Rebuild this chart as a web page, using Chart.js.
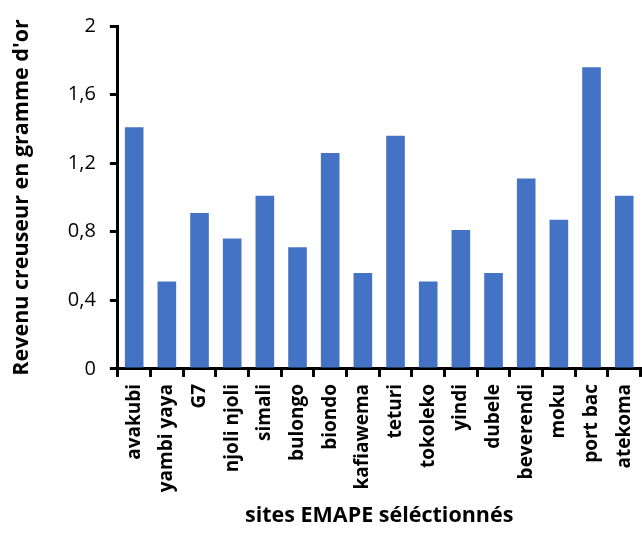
<!DOCTYPE html>
<html>
<head>
<meta charset="utf-8">
<script src="https://cdn.jsdelivr.net/npm/chart.js@4.4.0/dist/chart.umd.min.js"></script>
<style>
    html, body { margin: 0; padding: 0; background: #fff; overflow: hidden; }
    /* un peu plus large que la fenêtre : la marge droite du dernier libellé sort du cadre */
    #wrap { width: 654px; height: 533px; }
</style>
</head>
<body>
<div id="wrap"><canvas id="revenuChart"></canvas></div>
<script>
// sites et revenus (gramme d'or)
var sites = ["avakubi", "yambi yaya", "G7", "njoli njoli", "simali", "bulongo", "biondo", "kafiawema",
    "teturi", "tokoleko", "yindi", "dubele", "beverendi", "moku", "port bac", "atekoma"];
var revenus = [1.41, 0.51, 0.91, 0.76, 1.01, 0.71, 1.26, 0.56, 1.36, 0.51, 0.81, 0.56, 1.11, 0.87, 1.76, 1.01];
var yMin = 0;
var yMax = 2;
var yPas = 0.4;

var police = "'Open Sans', 'Liberation Sans', sans-serif";
var eRevenuChart = document.getElementById("revenuChart");

var data = {
    labels: sites,
    datasets: [{
        data: revenus,
        backgroundColor: '#4472C4',
        borderWidth: 0,
        barPercentage: 0.57,
        categoryPercentage: 1
    }]
};

var options = {
    responsive: true,
    maintainAspectRatio: false,
    animation: false,
    layout: { padding: { top: 25, right: 0, left: 9, bottom: 4 } },
    plugins: {
        legend: { display: false },
        tooltip: { enabled: false }
    },
    scales: {
        x: {
            grid: {
                offset: true,
                drawOnChartArea: false,
                drawTicks: true,
                tickLength: 8,
                color: '#000',
                lineWidth: 3
            },
            border: { color: '#000', width: 3 },
            ticks: {
                color: '#000',
                maxRotation: 90,
                minRotation: 90,
                autoSkip: false,
                padding: 7,
                font: { family: police, size: 19, weight: 'bold' }
            },
            title: {
                display: true,
                text: "sites EMAPE séléctionnés",
                color: '#000',
                padding: { top: 4, bottom: 0 },
                font: { family: police, size: 21.5, weight: 'bold' }
            }
        },
        y: {
            min: yMin,
            max: yMax,
            grid: {
                drawOnChartArea: false,
                drawTicks: true,
                tickLength: 8,
                color: '#000',
                lineWidth: 3
            },
            border: { color: '#000', width: 3 },
            ticks: {
                stepSize: yPas,
                color: '#000',
                padding: 14,
                font: { family: police, size: 20 },
                callback: function (v) {
                    return (Math.round(v * 10) / 10).toString().replace('.', ',');
                }
            },
            title: {
                display: true,
                text: "Revenu creuseur en gramme d'or",
                color: '#000',
                padding: { top: 0, bottom: 19 },
                font: { family: police, size: 21.5, weight: 'bold' }
            }
        }
    }
};

var oRevenuChart = new Chart(eRevenuChart, {
    type: 'bar',
    data: data,
    options: options
});
</script>
</body>
</html>
